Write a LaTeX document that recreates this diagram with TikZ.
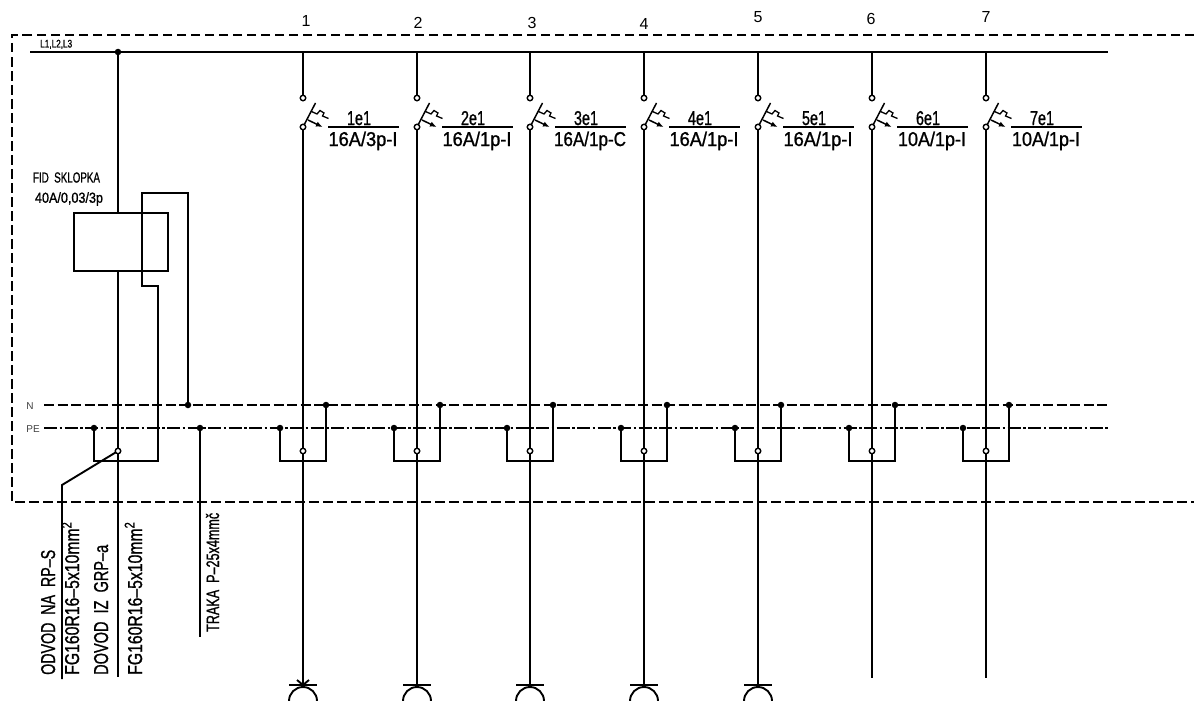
\documentclass[tikz,border=0pt]{standalone}
\usepackage{fontspec}
\setmainfont{Liberation Sans}
\usetikzlibrary{arrows.meta}
\newcommand{\cad}[3]{\resizebox{#1pt}{\height}{\addfontfeature{FakeBold=1.2}\fontsize{#2}{#2}\selectfont #3}}
\tikzset{
  x=1pt,y=-1pt,
  wire/.style={line width=1.9pt,line join=miter},
  boxdash/.style={line width=1.9pt,dash pattern=on 9.5pt off 4.5pt},
  ndash/.style={line width=1.9pt,dash pattern=on 10pt off 3.5pt},
  pedash/.style={line width=1.9pt,dash pattern=on 13pt off 2.5pt on 2.5pt off 2.5pt},
  jdot/.style={circle,fill=black,inner sep=0pt,minimum size=6.5pt},
  odot/.style={circle,draw=black,fill=white,line width=1.4pt,inner sep=0pt,minimum size=5.5pt},
  lab/.style={inner sep=0pt,text=black},
  tiny label/.style={lab,font=\fontsize{10}{10}\selectfont,text=black!75},
}
\begin{document}
\begin{tikzpicture}
\useasboundingbox (0,0) rectangle (1194,701);
% panel
\coordinate (pTR) at (1194,35); \coordinate (pTL) at (12,35);
\coordinate (pBL) at (12,502); \coordinate (pBR) at (1194,502);
\draw[boxdash] (pTR) -- (pTL) -- (pBL) -- (pBR);
% bars
\coordinate (busL) at (30,52); \coordinate (busR) at (1108,52);
\coordinate (nL) at (44,405); \coordinate (nR) at (1108,405);
\coordinate (peL) at (44,428); \coordinate (peR) at (1108,428);
\draw[wire] (busL) -- (busR);
\draw[ndash] (nL) -- (nR);
\draw[pedash] (peL) -- (peR);
\node[lab,anchor=base west] (lbus) at (40,47.5) {\cad{32}{11}{L1,L2,L3}};
\node[tiny label] (ln) at (30,406) {N};
\node[tiny label] (lpe) at (33,429) {PE};
% feed and FID switch
\node[draw=black,line width=1.9pt,minimum width=94pt,minimum height=58pt,inner sep=0pt,anchor=north west] (fid) at (73,212) {};
\node[lab,anchor=center] (fid1) at (66.5,177.5) {\cad{67}{14.5}{FID\ \ SKLOPKA}};
\node[lab,anchor=center] (fid2) at (69,199) {\cad{68}{14.5}{40A/0,03/3p}};
\coordinate (feedTop) at (118,52); \coordinate (feedIn) at (118,212);
\coordinate (feedOut) at (118,270); \coordinate (feedEnd) at (118,677);
\coordinate (fidC) at (118,451);
\draw[wire] (feedTop) -- (feedIn);
\draw[wire] (feedOut) -- (feedEnd);
\node[jdot] (feedDot) at (feedTop) {};
\coordinate (lA) at (188,193); \coordinate (lB) at (142,193);
\coordinate (lC) at (142,286); \coordinate (lD) at (158,286);
\coordinate (lE) at (158,461); \coordinate (lF) at (94,461);
\node[jdot] (fidN) at (188,405) {};
\node[jdot] (fidPE) at (94,428) {};
\node[jdot] (trakaPE) at (200,428) {};
\draw[wire] (fidN) -- (lA) -- (lB) -- (lC) -- (lD) -- (lE) -- (lF) -- (fidPE);
\coordinate (odA) at (62,485); \coordinate (odB) at (62,679);
\coordinate (trakaE) at (200,637);
\draw[wire] (fidC) -- (odA) -- (odB);
\draw[wire] (trakaPE) -- (trakaE);
\node[odot] (fidO) at (fidC) {};
% rotated labels
\node[lab,rotate=90,anchor=base west] (t1) at (55,675) {\cad{125}{20}{ODVOD\ \ NA\ \ RP--S}};
\node[lab,rotate=90,anchor=base west] (t2) at (79,675) {\cad{153}{20}{FG160R16--5x10mm\textsuperscript{2}}};
\node[lab,rotate=90,anchor=base west] (t3) at (108,675) {\cad{130}{20}{DOVOD\ \ IZ\ \ GRP--a}};
\node[lab,rotate=90,anchor=base west] (t4) at (142,675) {\cad{153}{20}{FG160R16--5x10mm\textsuperscript{2}}};
\node[lab,rotate=90,anchor=base west] (t5) at (219,632) {\cad{119}{18}{TRAKA\ \ P--25x4mmč}};
% circuits
\foreach \i/\x/\nx/\ny/\tag/\rate/\w/\yend in {
 1/303/3/21/1e1/16A\slash 3p-I/69/685,
 2/417/1/23/2e1/16A\slash 1p-I/69/685,
 3/530/2/23/3e1/16A\slash 1p-C/72/685,
 4/644/0/24/4e1/16A\slash 1p-I/69/685,
 5/758/0/17/5e1/16A\slash 1p-I/69/685,
 6/872/-1/19/6e1/10A\slash 1p-I/68/678,
 7/986/0/17/7e1/10A\slash 1p-I/68/678}{
  \begin{scope}[shift={(\x,0)}]
    \node[lab,font=\fontsize{16}{16}\selectfont] (num\i) at (\nx,\ny) {\i};
    \coordinate (tap\i) at (0,52);
    \coordinate (swU\i) at (0,98);
    \coordinate (swL\i) at (0,127);
    \coordinate (end\i) at (0,\yend);
    \coordinate (armE\i) at (12.5,103);
    \coordinate (tieL\i) at (25,127);
    \coordinate (tieR\i) at (96,127);
    \draw[wire] (tap\i) -- (swU\i);
    \draw[wire] (swL\i) -- (end\i);
    \draw[line width=1.5pt] (swL\i) -- (armE\i);
    \draw[line width=1.3pt] (8.5,111.5) -- (14,114) -- (17,110.5) -- (21,113) -- (19.5,116) -- (25.5,118.5);
    \draw[line width=1.5pt,-{Latex[length=6.5pt,width=5.5pt]}] (5,120) -- (19.5,127);
    \draw[line width=1.9pt] (tieL\i) -- (tieR\i);
    \node[odot] (o1\i) at (swU\i) {};
    \node[odot] (o2\i) at (swL\i) {};
    \node[lab,anchor=base] (tag\i) at (56,125) {\cad{24}{20}{\tag}};
    \node[lab,anchor=base] (rate\i) at (60,146) {\cad{\w}{20}{\rate}};
    % N / PE bridge
    \node[jdot] (nd\i) at (23,405) {};
    \node[jdot] (pd\i) at (-23,428) {};
    \coordinate (bL\i) at (-23,461);
    \coordinate (bR\i) at (23,461);
    \draw[wire] (pd\i) -- (bL\i) -- (bR\i) -- (nd\i);
    \node[odot] (oc\i) at (0,451) {};
  \end{scope}
}
% outlets
\foreach \i in {1,...,5}{
  \coordinate (bl\i) at ([xshift=-14pt]end\i);
  \coordinate (br\i) at ([xshift=14pt]end\i);
  \draw[wire] (bl\i) -- (br\i);
  \draw[wire] ([xshift=-14pt,yshift=-16pt]end\i) arc[start angle=180,end angle=0,radius=14pt];
}
\draw[wire] ([xshift=-6pt,yshift=5pt]end1) -- (end1) -- ([xshift=6pt,yshift=5pt]end1);
\end{tikzpicture}
\end{document}
